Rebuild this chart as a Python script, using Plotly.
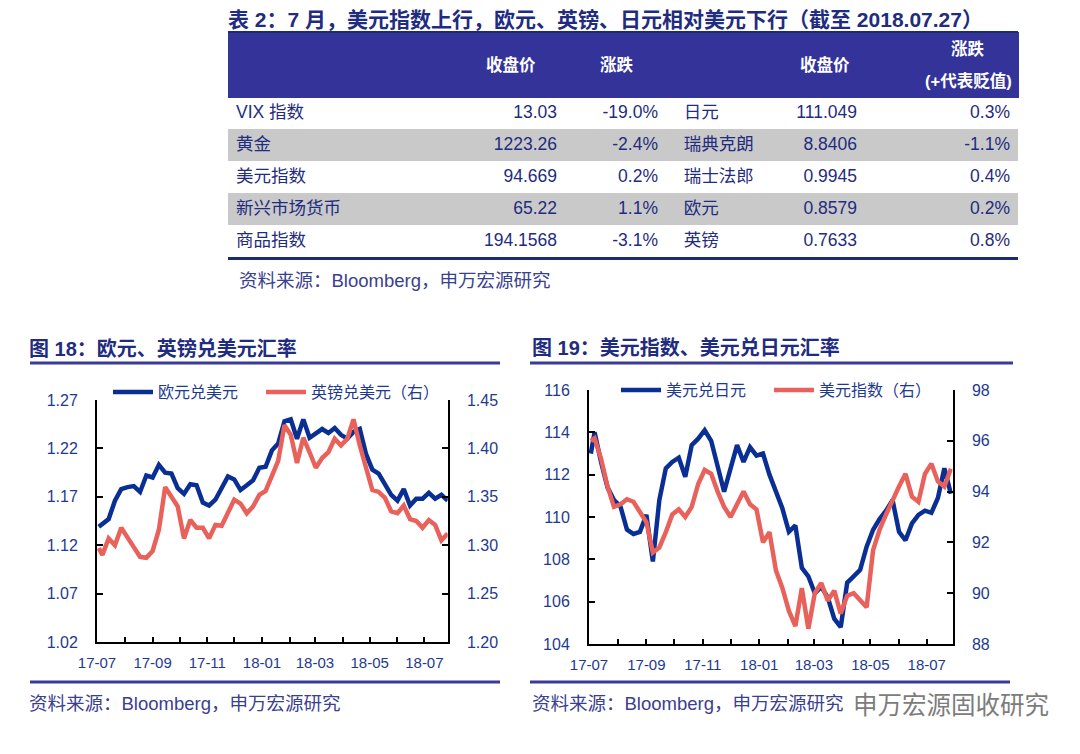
import plotly.graph_objects as go

# The page body adds an 8 px margin, so the figure is sized to fit the window.
OFF = 8
FW, FH = 1080 - OFF, 754 - OFF
def px(x):
    return (x - OFF) / FW
def py(y):
    return 1 - (y - OFF) / FH

# ---------------- table data ----------------
tbl_title = "表 2：7 月，美元指数上行，欧元、英镑、日元相对美元下行（截至 2018.07.27）"
tbl_header = ["收盘价", "涨跌", "收盘价", "涨跌", "(+代表贬值)"]
tbl_left_names = ["VIX 指数", "黄金", "美元指数", "新兴市场货币", "商品指数"]
tbl_left_close = ["13.03", "1223.26", "94.669", "65.22", "194.1568"]
tbl_left_chg = ["-19.0%", "-2.4%", "0.2%", "1.1%", "-3.1%"]
tbl_right_names = ["日元", "瑞典克朗", "瑞士法郎", "欧元", "英镑"]
tbl_right_close = ["111.049", "8.8406", "0.9945", "0.8579", "0.7633"]
tbl_right_chg = ["0.3%", "-1.1%", "0.4%", "0.2%", "0.8%"]
source_text = "资料来源：Bloomberg，申万宏源研究"
watermark = "申万宏源固收研究"

# ---------------- chart data (weekly) ----------------
dates = ["2017-07-03", "2017-07-07", "2017-07-14", "2017-07-21", "2017-07-28",
         "2017-08-04", "2017-08-11", "2017-08-18", "2017-08-25", "2017-09-01",
         "2017-09-08", "2017-09-15", "2017-09-22", "2017-09-29", "2017-10-06",
         "2017-10-13", "2017-10-20", "2017-10-27", "2017-11-03", "2017-11-10",
         "2017-11-17", "2017-11-24", "2017-12-01", "2017-12-08", "2017-12-15",
         "2017-12-22", "2017-12-29", "2018-01-05", "2018-01-12", "2018-01-19",
         "2018-01-26", "2018-02-02", "2018-02-09", "2018-02-16", "2018-02-23",
         "2018-03-02", "2018-03-09", "2018-03-16", "2018-03-23", "2018-03-30",
         "2018-04-06", "2018-04-13", "2018-04-20", "2018-04-27", "2018-05-04",
         "2018-05-11", "2018-05-18", "2018-05-25", "2018-06-01", "2018-06-08",
         "2018-06-15", "2018-06-22", "2018-06-29", "2018-07-06", "2018-07-13",
         "2018-07-20", "2018-07-27"]

eurusd = [1.139, 1.142, 1.147, 1.166, 1.178, 1.180, 1.181, 1.175, 1.192, 1.190,
          1.203, 1.195, 1.194, 1.179, 1.173, 1.183, 1.182, 1.164, 1.161, 1.167,
          1.178, 1.191, 1.188, 1.177, 1.182, 1.187, 1.200, 1.201, 1.218, 1.225,
          1.248, 1.250, 1.230, 1.250, 1.231, 1.235, 1.240, 1.236, 1.241, 1.234,
          1.230, 1.237, 1.240, 1.214, 1.198, 1.194, 1.184, 1.172, 1.166, 1.178,
          1.161, 1.168, 1.168, 1.174, 1.168, 1.172, 1.166]

gbpusd = [1.297, 1.290, 1.307, 1.300, 1.318, 1.307, 1.298, 1.288, 1.287, 1.294,
          1.316, 1.360, 1.350, 1.340, 1.307, 1.326, 1.318, 1.318, 1.307, 1.321,
          1.320, 1.334, 1.347, 1.343, 1.333, 1.340, 1.352, 1.356, 1.372, 1.387,
          1.424, 1.414, 1.385, 1.411, 1.396, 1.380, 1.390, 1.396, 1.410, 1.403,
          1.410, 1.430, 1.403, 1.380, 1.357, 1.355, 1.349, 1.335, 1.333, 1.341,
          1.327, 1.325, 1.318, 1.326, 1.321, 1.305, 1.312]

usdjpy = [113.0, 114.0, 112.6, 111.4, 110.8, 110.5, 109.4, 109.2, 109.3, 110.1,
          107.9, 110.8, 112.3, 112.6, 112.8, 111.9, 113.4, 113.7, 114.1, 113.6,
          112.4, 111.2, 112.3, 113.4, 112.6, 113.3, 112.9, 113.0, 112.0, 111.2,
          110.4, 109.3, 109.6, 107.6, 107.2, 106.4, 106.7, 106.2, 105.2, 104.8,
          106.9, 107.2, 107.5, 108.6, 109.4, 109.9, 110.3, 110.8, 109.3, 108.9,
          109.7, 110.1, 110.3, 110.2, 110.9, 112.3, 111.1]

dxy = [96.0, 96.1, 95.3, 94.2, 93.4, 93.5, 93.7, 93.6, 93.2, 92.8,
       91.6, 91.8, 92.4, 93.1, 93.3, 93.0, 93.4, 94.3, 94.85, 94.7,
       94.0, 93.4, 93.0, 93.5, 94.0, 93.5, 93.3, 92.0, 92.4, 90.9,
       90.2, 89.3, 88.7, 90.2, 88.6, 90.0, 90.4, 89.7, 90.1, 89.2,
       89.9, 90.0, 89.7, 89.45, 91.7, 92.5, 93.1, 93.7, 94.2, 94.7,
       93.8, 93.6, 94.7, 95.1, 94.4, 94.2, 94.9]

names1 = ["欧元兑美元", "英镑兑美元（右）"]
names2 = ["美元兑日元", "美元指数（右）"]
titles = ["图 18：欧元、英镑兑美元汇率", "图 19：美元指数、美元兑日元汇率"]
ticks_y1 = [1.02, 1.07, 1.12, 1.17, 1.22, 1.27]
ticks_y2 = [1.20, 1.25, 1.30, 1.35, 1.40, 1.45]
ticks_y3 = [104, 106, 108, 110, 112, 114, 116]
ticks_y4 = [88, 90, 92, 94, 96, 98]

# ---------------- styles ----------------
BLUE = "#0A2F94"
RED = "#E8615B"
NAVY = "#1F2C80"
TICK = "#1E3A8F"
BAND = "#333399"
GRAY = "#C9C9C9"
RULE = "#3A3A98"
SRC = "#3A408E"
FONT = "Liberation Sans, Noto Sans CJK SC, sans-serif"
LW = 4.5

fig = go.Figure()

# ---------------- table ----------------
col_edges = [228, 470, 565, 666, 769, 865, 1018]
widths = [b - a for a, b in zip(col_edges[:-1], col_edges[1:])]
row_fill = ["white", GRAY, "white", GRAY, "white"]
fig.add_trace(go.Table(
    domain=dict(x=[px(228), px(1018)], y=[py(258), py(32)]),
    columnwidth=widths,
    header=dict(values=[""] * 6, fill_color=BAND, height=65,
                line=dict(color=BAND, width=1)),
    cells=dict(
        values=[tbl_left_names, tbl_left_close, tbl_left_chg,
                ["\u00a0\u00a0" + n for n in tbl_right_names],
                tbl_right_close, tbl_right_chg],
        fill_color=[row_fill] * 6,
        height=32,
        align=["left", "right", "right", "left", "right", "right"],
        font=dict(family=FONT, size=17.5, color=NAVY),
        line=dict(color="rgba(0,0,0,0)", width=0),
    ),
))

# ---------------- chart traces ----------------
fig.add_trace(go.Scatter(x=dates, y=eurusd, mode="lines", name=names1[0],
                         line=dict(color=BLUE, width=LW), xaxis="x", yaxis="y",
                         legend="legend"))
fig.add_trace(go.Scatter(x=dates, y=gbpusd, mode="lines", name=names1[1],
                         line=dict(color=RED, width=LW), xaxis="x", yaxis="y2",
                         legend="legend", legendwidth=150))
fig.add_trace(go.Scatter(x=dates, y=usdjpy, mode="lines", name=names2[0],
                         line=dict(color=BLUE, width=LW), xaxis="x2", yaxis="y3",
                         legend="legend2"))
fig.add_trace(go.Scatter(x=dates, y=dxy, mode="lines", name=names2[1],
                         line=dict(color=RED, width=LW), xaxis="x2", yaxis="y4",
                         legend="legend2", legendwidth=130))

def xax(domain, anchor, rng):
    return dict(domain=domain, anchor=anchor, range=rng, type="date",
                tick0="2017-07-01", dtick="M2", tickformat="%y-%m",
                ticks="inside", ticklen=5, tickwidth=2, tickcolor="black",
                showline=True, linecolor="black", linewidth=2,
                showgrid=False, zeroline=False, automargin=False,
                minor=dict(dtick="M1", ticks="inside", ticklen=5, tickwidth=2,
                           tickcolor="black", showgrid=False),
                tickfont=dict(family=FONT, size=15, color=TICK),
                ticklabelstandoff=6)

def yax(domain, anchor, rng, vals, fmt, side, overlaying=None):
    d = dict(domain=domain, anchor=anchor, range=rng, tickvals=vals,
             tickformat=fmt, side=side,
             ticks="inside", ticklen=6, tickwidth=2, tickcolor="black",
             showline=True, linecolor="black", linewidth=2,
             showgrid=False, zeroline=False, automargin=False,
             tickfont=dict(family=FONT, size=16, color=TICK),
             ticklabelstandoff=14)
    if overlaying:
        d["overlaying"] = overlaying
    return d

y1dom = [py(642), py(400)]
y3dom = [py(644), py(390)]

legend_style = dict(orientation="h", xanchor="left", yanchor="top",
                    bgcolor="rgba(0,0,0,0)", font=dict(family=FONT, size=16, color=TICK),
                    itemwidth=40, tracegroupgap=0, entrywidth=98, entrywidthmode="pixels")

fig.update_layout(
    template="none",
    width=FW, height=FH,
    margin=dict(l=0, r=0, t=0, b=0, pad=0, autoexpand=False),
    paper_bgcolor="white", plot_bgcolor="white",
    font=dict(family=FONT, color=NAVY),
    xaxis=xax([px(97), px(447.7)], "y", ["2017-07-01", "2018-07-27"]),
    yaxis=yax(y1dom, "x", [1.02, 1.27], ticks_y1, ".2f", "left"),
    yaxis2=yax(y1dom, "x", [1.20, 1.45], ticks_y2, ".2f", "right", "y"),
    xaxis2=xax([px(589), px(952.7)], "y3", ["2017-07-01", "2018-07-29"]),
    yaxis3=yax(y3dom, "x2", [104, 116], ticks_y3, "d", "left"),
    yaxis4=yax(y3dom, "x2", [88, 98], ticks_y4, "d", "right", "y3"),
    legend=dict(x=px(108), y=py(375), **legend_style),
    legend2=dict(x=px(616), y=py(373), **legend_style),
    showlegend=True,
)

# ---------------- rules ----------------
def hline(x0, x1, y, color, width):
    return dict(type="line", xref="paper", yref="paper", x0=px(x0), x1=px(x1),
                y0=py(y), y1=py(y), line=dict(color=color, width=width))

shapes = [
    hline(228, 1018, 32, "#1C2A6E", 2),
    hline(228, 1018, 258.5, "#1C2A6E", 3),
    hline(30, 500, 363, RULE, 3),
    hline(530, 1013, 363, RULE, 3),
    hline(30, 500, 682, RULE, 3),
    hline(530, 1010, 682, RULE, 3),
]
fig.update_layout(shapes=shapes)

# ---------------- text ----------------
def ann(text, x, y, size, color, bold=False, xanchor="left", bg=None):
    a = dict(text=("<b>%s</b>" % text) if bold else text, x=px(x), y=py(y),
             xref="paper", yref="paper", xanchor=xanchor, yanchor="middle",
             showarrow=False, borderpad=0,
             font=dict(family=FONT, size=size, color=color))
    if bg:
        a["bgcolor"] = bg
    return a

anns = [
    ann(tbl_title, 227, 19, 21, NAVY, bold=True),
    ann(tbl_header[0], 511, 65, 16.5, "white", bold=True, xanchor="center"),
    ann(tbl_header[1], 617, 65, 16.5, "white", bold=True, xanchor="center"),
    ann(tbl_header[2], 825, 65, 16.5, "white", bold=True, xanchor="center"),
    ann(tbl_header[3], 968, 49, 16.5, "white", bold=True, xanchor="center"),
    ann(tbl_header[4], 968, 81, 16.5, "white", bold=True, xanchor="center"),
    ann(source_text, 238, 280, 18.5, SRC),
    ann(titles[0], 28, 348, 20, NAVY, bold=True),
    ann(titles[1], 531, 348, 20, NAVY, bold=True),
    ann(source_text, 28, 703, 18.5, SRC),
    ann(source_text, 531, 703, 18.5, SRC),
    ann(watermark, 852, 705, 24.5, "#7C7C7C"),
]
fig.update_layout(annotations=anns)

fig.write_html("out.html")
